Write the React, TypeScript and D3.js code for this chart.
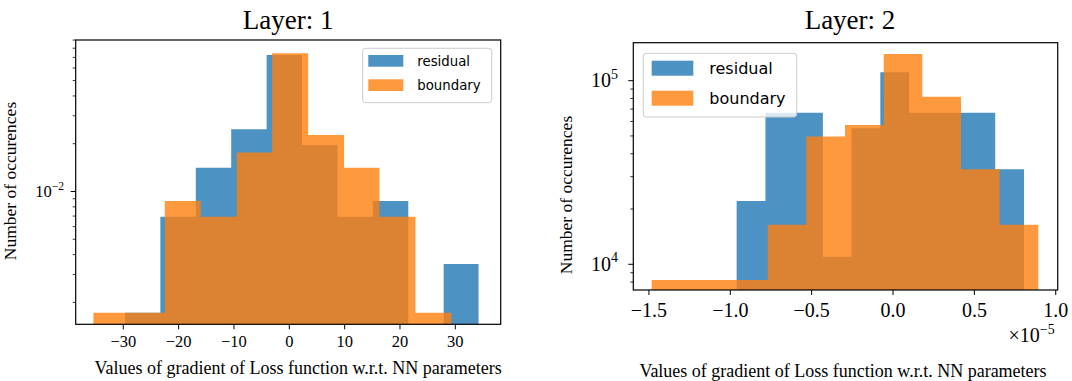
import React from 'react';
import * as d3 from 'd3';

// Layer 1: densities (bin edges from the picture)
const layer1ResidualEdges = [-29.7, -23.3, -16.9, -10.5, -4.1, 2.3, 8.7, 15.1, 21.5, 27.9, 34.2];
const layer1ResidualValues = [1.72e-3, 6.94e-3, 1.41e-2, 2.47e-2, 7.25e-2, 1.96e-2, 6.94e-3, 8.71e-3, 0, 3.49e-3];
const layer1BoundaryEdges = [-35.4, -28.9, -22.5, -16.0, -9.5, -3.1, 3.4, 9.9, 16.3, 22.8, 29.3];
const layer1BoundaryValues = [1.72e-3, 1.72e-3, 8.71e-3, 6.94e-3, 1.76e-2, 7.43e-2, 2.27e-2, 1.41e-2, 6.94e-3, 1.72e-3];
const layer1XTicks = [-30, -20, -10, 0, 10, 20, 30];

// Layer 2: counts, x in units of 1e-5
const layer2ResidualEdges = [-0.961, -0.784, -0.608, -0.431, -0.255, -0.078, 0.099, 0.275, 0.452, 0.628, 0.805];
const layer2ResidualValues = [22100, 66900, 66900, 11000, 55000, 111000, 66900, 66900, 66900, 32900];
const layer2BoundaryEdges = [-1.483, -1.245, -1.008, -0.770, -0.533, -0.295, -0.057, 0.180, 0.418, 0.655, 0.893];
const layer2BoundaryValues = [8210, 8210, 8210, 16400, 49600, 57400, 139800, 81800, 32900, 16400];
const layer2XTicks = [-1.5, -1.0, -0.5, 0.0, 0.5, 1.0];

const seriesNames = ['residual', 'boundary'];
const BLUE = '#1f77b4';
const ORANGE = '#ff7f0e';
const SERIF = '"Liberation Serif", "Times New Roman", serif';
const SANS = '"DejaVu Sans", sans-serif';

// one path per series so neighbouring bars don't show seams
function Hist({ edges, values, x, y, color }) {
  const base = y.range()[0];
  const path = d3.path();
  values.forEach((v, i) => {
    if (v > 0) path.rect(x(edges[i]), y(v), x(edges[i + 1]) - x(edges[i]), base - y(v));
  });
  return <path d={path.toString()} fill={color} fillOpacity={0.8} />;
}

function Panel(p) {
  const x = d3.scaleLinear().domain(p.xDomain).range([p.left, p.right]);
  const y = d3.scaleLog().domain(p.yDomain).range([p.bottom, p.top]);
  const [lo, hi] = p.yDomain;
  // log minor ticks
  const minors = [];
  for (let e = Math.floor(Math.log10(lo)); e <= Math.ceil(Math.log10(hi)); e++) {
    for (let k = 2; k <= 9; k++) {
      const v = k * Math.pow(10, e);
      if (v >= lo && v <= hi) minors.push(v);
    }
  }
  const majors = p.yMajor.filter((m) => m.v >= lo && m.v <= hi);
  const lg = p.legend;

  return (
    <g>
      <text x={(p.left + p.right) / 2 + p.titleDx} y={p.titleY} textAnchor="middle"
        fontFamily={SERIF} fontSize={27}>{p.title}</text>

      <Hist edges={p.resEdges} values={p.resValues} x={x} y={y} color={BLUE} />
      <Hist edges={p.bndEdges} values={p.bndValues} x={x} y={y} color={ORANGE} />

      <rect x={p.left} y={p.top} width={p.right - p.left} height={p.bottom - p.top}
        fill="none" stroke="#000" strokeWidth={1.2} />

      {p.xTicks.map((t) => (
        <g key={t}>
          <line x1={x(t)} x2={x(t)} y1={p.bottom} y2={p.bottom + 5} stroke="#000" />
          <text x={x(t)} y={p.xTickY} textAnchor="middle" fontFamily={SERIF}
            fontSize={p.tickSize}>{p.xFormat(t)}</text>
        </g>
      ))}

      {minors.map((v) => (
        <line key={v} x1={p.left - 3} x2={p.left} y1={y(v)} y2={y(v)} stroke="#000" strokeWidth={0.8} />
      ))}
      {majors.map((m) => (
        <g key={m.v}>
          <line x1={p.left - 5} x2={p.left} y1={y(m.v)} y2={y(m.v)} stroke="#000" />
          <text x={p.yTickX} y={y(m.v) + p.tickSize * 0.33} textAnchor="end"
            fontFamily={SERIF} fontSize={p.tickSize}>
            10<tspan fontSize={p.tickSize * 0.7} dy={-p.tickSize * 0.42}>{m.exp}</tspan>
          </text>
        </g>
      ))}

      {p.offsetText ? (
        <text x={p.right - 3} y={p.offsetY} textAnchor="end" fontFamily={SERIF} fontSize={p.tickSize}>
          ×10<tspan fontSize={p.tickSize * 0.7} dy={-p.tickSize * 0.42}>{p.offsetText}</tspan>
        </text>
      ) : null}

      <text x={(p.left + p.right) / 2 + p.xLabelDx} y={p.xLabelY} textAnchor="middle"
        fontFamily={SERIF} fontSize={18}>Values of gradient of Loss function w.r.t. NN parameters</text>
      <text transform={`translate(${p.yLabelX},${p.yLabelCy}) rotate(-90)`} textAnchor="middle"
        fontFamily={SERIF} fontSize={17.5}>Number of occurences</text>

      <g>
        <rect x={lg.x} y={lg.y} width={lg.w} height={lg.h} rx={3} fill="#fff" fillOpacity={0.8}
          stroke="#cccccc" strokeWidth={1} />
        {seriesNames.map((name, i) => (
          <g key={name}>
            <rect x={lg.px} y={lg.py + i * lg.gap} width={lg.pw} height={lg.ph}
              fill={i === 0 ? BLUE : ORANGE} fillOpacity={0.8} />
            <text x={lg.tx} y={lg.py + i * lg.gap + lg.ph / 2 + lg.fs * 0.36} fontFamily={SANS}
              fontSize={lg.fs}>{name}</text>
          </g>
        ))}
      </g>
    </g>
  );
}

export default function App() {
  const fmt1 = d3.format('d');
  const fmt2 = d3.format('.1f');
  return (
    <div style={{ position: 'absolute', left: 0, top: 0 }}>
      <svg width={1072} height={381} style={{ display: 'block', background: '#fff' }}>
        <Panel
          title="Layer: 1" titleY={29} titleDx={0}
          left={75.7} right={500.7} top={40} bottom={324.3}
          xDomain={[-38.6, 38.2]} yDomain={[1.455e-3, 0.0901]}
          resEdges={layer1ResidualEdges} resValues={layer1ResidualValues}
          bndEdges={layer1BoundaryEdges} bndValues={layer1BoundaryValues}
          xTicks={layer1XTicks} xFormat={fmt1} xTickY={347} tickSize={16.5}
          yMajor={[{ v: 1e-2, exp: '−2' }]} yTickX={64}
          xLabelY={374} xLabelDx={10} yLabelX={16} yLabelCy={181}
          legend={{ x: 362.7, y: 48.3, w: 129, h: 54.4, px: 368.3, py: 55, pw: 35, ph: 11.7, gap: 24.3, tx: 417.3, fs: 13.3 }}
        />
        <Panel
          title="Layer: 2" titleY={28.5} titleDx={4.5}
          left={633.3} right={1057.7} top={42.7} bottom={290}
          xDomain={[-1.596, 1.012]} yDomain={[7244, 161000]}
          resEdges={layer2ResidualEdges} resValues={layer2ResidualValues}
          bndEdges={layer2BoundaryEdges} bndValues={layer2BoundaryValues}
          xTicks={layer2XTicks} xFormat={fmt2} xTickY={316.5} tickSize={20}
          yMajor={[{ v: 1e4, exp: '4' }, { v: 1e5, exp: '5' }]} yTickX={618}
          offsetText="−5" offsetY={342}
          xLabelY={377} xLabelDx={-2.5} yLabelX={572} yLabelCy={195}
          legend={{ x: 643.3, y: 53.3, w: 153.4, h: 63.7, px: 651.7, py: 60.7, pw: 41.6, ph: 15, gap: 30, tx: 709.3, fs: 16 }}
        />
      </svg>
    </div>
  );
}
